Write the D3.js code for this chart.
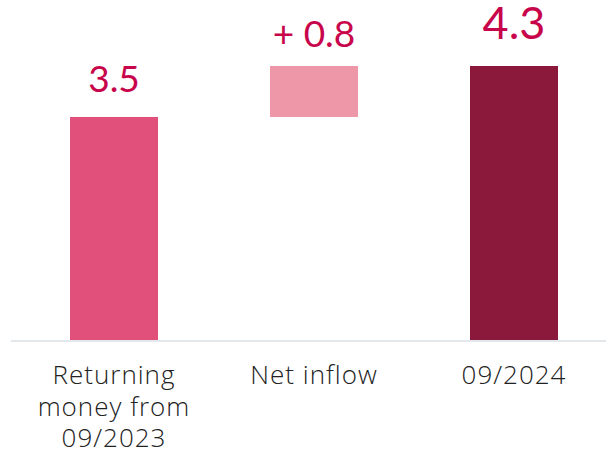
<!DOCTYPE html>
<html>
<head>
<meta charset="utf-8">
<script src="https://cdn.jsdelivr.net/npm/d3@7"></script>
<style>
  body { margin: 0; background: #fff; }
  svg { display: block; }
</style>
</head>
<body>
<svg width="606" height="452"></svg>
<script>
const svg = d3.select("svg");

// data
const categories = ["Returning money from 09/2023", "Net inflow", "09/2024"];
const labelLines = [["Returning", "money from", "09/2023"], ["Net inflow"], ["09/2024"]];
const starts = [0, 3.5, 0];
const ends = [3.5, 4.3, 4.3];
const valueLabels = ["3.5", "+ 0.8", "4.3"];
const colors = ["#e0507b", "#ee97a8", "#8b193c"];

const baseY = 340;

const x = d3.scaleBand()
    .domain(categories)
    .range([14, 614])
    .paddingInner(0.56)
    .paddingOuter(0.28);

const y = d3.scaleLinear()
    .domain([0, 4.3])
    .range([baseY, 66]);

const bars = categories.map((c, i) => ({ c, s: starts[i], e: ends[i], color: colors[i], label: valueLabels[i], lines: labelLines[i], total: i === categories.length - 1 }));

// baseline
svg.append("line")
    .attr("x1", 11).attr("x2", 606)
    .attr("y1", baseY + 1).attr("y2", baseY + 1)
    .attr("stroke", "#e3e8ec")
    .attr("stroke-width", 2);

// bars
svg.selectAll("rect.bar")
    .data(bars)
    .enter()
    .append("rect")
    .attr("class", "bar")
    .attr("x", d => x(d.c))
    .attr("width", x.bandwidth())
    .attr("y", d => y(d.e))
    .attr("height", d => y(d.s) - y(d.e))
    .attr("fill", d => d.color);

// value labels (total is bigger)
svg.selectAll("text.val")
    .data(bars)
    .enter()
    .append("text")
    .attr("class", "val")
    .attr("x", d => x(d.c) + x.bandwidth() / 2)
    .attr("y", d => y(d.e) - (d.total ? 27 : d.s > 0 ? 19 : 25))
    .attr("text-anchor", "middle")
    .attr("font-family", "Lato, 'Open Sans', sans-serif")
    .attr("font-size", d => d.total ? 45 : 37)
    .attr("fill", "#c8054b")
    .text(d => d.label);

// category labels
const cat = svg.selectAll("text.cat")
    .data(bars)
    .enter()
    .append("text")
    .attr("class", "cat")
    .attr("text-anchor", "middle")
    .attr("font-family", "'Open Sans', sans-serif")
    .attr("font-weight", 300)
    .attr("font-size", 26)
    .attr("letter-spacing", 1)
    .attr("fill", "#222");

cat.selectAll("tspan")
    .data(d => d.lines.map(l => ({ l, cx: x(d.c) + x.bandwidth() / 2 })))
    .enter()
    .append("tspan")
    .attr("x", d => d.cx)
    .attr("y", (d, i) => 384 + i * 31.5)
    .text(d => d.l);
</script>
</body>
</html>
